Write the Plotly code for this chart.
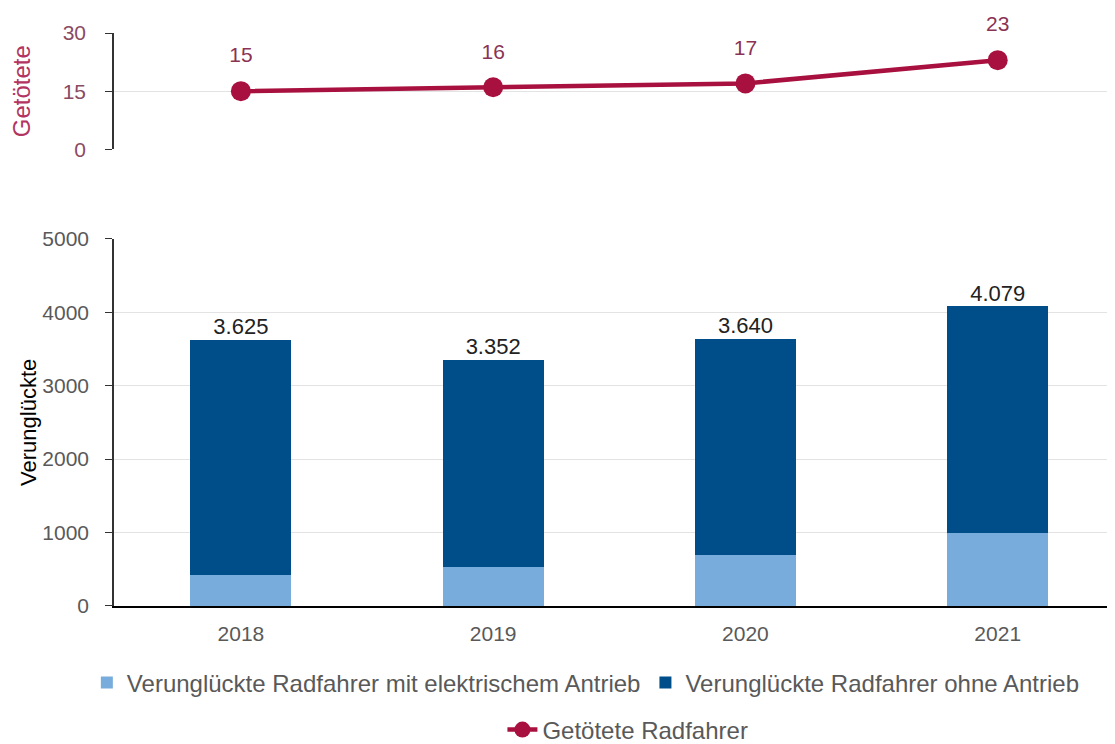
import plotly.graph_objects as go

years = ["2018", "2019", "2020", "2021"]
e_bike = [420, 530, 690, 990]
totals = [3625, 3352, 3640, 4079]
ohne = [t - e for t, e in zip(totals, e_bike)]
killed = [15, 16, 17, 23]

name_e = "Verunglückte Radfahrer mit elektrischem Antrieb"
name_o = "Verunglückte Radfahrer ohne Antrieb"
name_k = "Getötete Radfahrer"

LIGHT = "#78acdc"
DARK = "#004e89"
RED = "#a8103f"
TICK = "#595959"
FONT = "Liberation Sans, Arial, sans-serif"

def de(v):
    return f"{v:,}".replace(",", ".")

fig = go.Figure()
fig.add_trace(go.Bar(x=years, y=e_bike, name=name_e, marker_color=LIGHT,
                     marker_line_width=0, width=0.4, xaxis="x", yaxis="y",
                     legend="legend"))
fig.add_trace(go.Bar(x=years, y=ohne, name=name_o, marker_color=DARK,
                     marker_line_width=0, width=0.4, xaxis="x", yaxis="y",
                     legend="legend"))
# total labels above stacked bars
fig.add_trace(go.Scatter(x=years, y=totals, mode="text",
                         text=[de(t) for t in totals], textposition="top center",
                         textfont=dict(size=22, color="#222222", family=FONT),
                         showlegend=False, hoverinfo="skip", cliponaxis=False,
                         xaxis="x", yaxis="y"))
fig.add_trace(go.Scatter(x=years, y=killed, name=name_k, mode="lines+markers",
                         line=dict(color=RED, width=4.5),
                         marker=dict(color=RED, size=20),
                         cliponaxis=False,
                         xaxis="x2", yaxis="y2", legend="legend2"))
# value labels above line points
fig.add_trace(go.Scatter(x=years, y=killed, mode="markers+text",
                         text=[str(k) for k in killed], textposition="top center",
                         marker=dict(size=36, opacity=0),
                         textfont=dict(size=21, color="#8a3355", family=FONT),
                         showlegend=False, hoverinfo="skip", cliponaxis=False,
                         xaxis="x2", yaxis="y2"))

fig.update_layout(
    width=1107, height=736,
    margin=dict(l=106, r=0, t=25, b=138),
    paper_bgcolor="white", plot_bgcolor="white",
    barmode="stack",
    font=dict(family=FONT, size=21, color=TICK),
    xaxis=dict(type="category", domain=[0, 1], anchor="y", range=[-0.503, 3.465],
               showline=True, linecolor="black", linewidth=2,
               ticks="", ticklabelstandoff=8,
               tickfont=dict(size=21, color=TICK), showgrid=False),
    yaxis=dict(domain=[0, 0.641], range=[0, 5000], dtick=1000, tickformat="d",
               showline=True, linecolor="#333333", linewidth=1.5,
               ticks="outside", ticklen=7, tickcolor="#333333",
               ticklabelstandoff=12,
               gridcolor="#e3e3e3", zeroline=False,
               tickfont=dict(size=21, color=TICK),
               title=dict(text="Verunglückte", standoff=0,
                          font=dict(size=22, color="black"))),
    xaxis2=dict(type="category", domain=[0, 1], anchor="y2", range=[-0.503, 3.465],
                showticklabels=False, showline=False, ticks="", showgrid=False),
    yaxis2=dict(domain=[0.797, 1], range=[0, 30], dtick=15,
                showline=True, linecolor="#333333", linewidth=1.5,
                ticks="outside", ticklen=7, tickcolor="#333333",
                ticklabelstandoff=15,
                gridcolor="#e3e3e3", zeroline=False,
                tickfont=dict(size=21, color="#8a4a62"),
                title=dict(text="Getötete", standoff=30,
                           font=dict(size=24, color="#b2345f"))),
    legend=dict(orientation="h", xref="container", yref="container",
                x=0.522, xanchor="center", y=0.083, yanchor="middle",
                font=dict(size=24, color=TICK), itemwidth=30,
                traceorder="normal"),
    legend2=dict(orientation="h", xref="container", yref="container",
                 x=0.56, xanchor="center", y=0.019, yanchor="middle",
                 font=dict(size=24, color=TICK)),
)

fig.write_html("out.html")
